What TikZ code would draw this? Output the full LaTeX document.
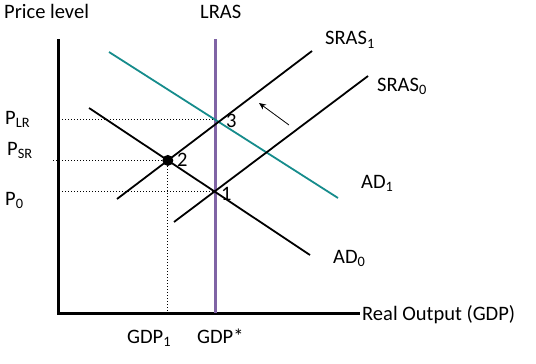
\documentclass[tikz,border=0pt]{standalone}
\usepackage{fontspec}
\setmainfont{Carlito}
\usetikzlibrary{intersections,arrows.meta}
\definecolor{lrascol}{RGB}{128,100,165}
\definecolor{adteal}{RGB}{22,140,140}
\tikzset{
  axis/.style={line width=3pt,black},
  curve/.style={line width=1.8pt,black},
  guide/.style={line width=1pt,dash pattern=on 1pt off 2pt},
  lbl/.style={anchor=base west,inner sep=0pt,font=\fontsize{20.5}{24}\selectfont},
  num/.style={anchor=base west,inner sep=0pt,font=\fontsize{20.5}{24}\selectfont},
}
\begin{document}
\begin{tikzpicture}[x=1pt,y=-1pt]
\useasboundingbox (0,0) rectangle (536,364);
% axes
\coordinate (yt) at (58,39);
\coordinate (o) at (58,313);
\coordinate (xe) at (360,313);
\draw[axis] (yt) -- (o) -- (xe);
% LRAS
\coordinate (lt) at (215,39);
\coordinate (lb) at (215,313);
\draw[line width=3pt,lrascol,name path=lras] (lt) -- (lb);
% curves
\coordinate (ad1a) at (109,52);
\coordinate (ad1b) at (338,198);
\draw[line width=1.8pt,adteal,name path=ad1] (ad1a) -- (ad1b);
\coordinate (ad0a) at (89,108);
\coordinate (ad0b) at (310,255);
\draw[curve,name path=ad0] (ad0a) -- (ad0b);
\coordinate (s1a) at (117,199);
\coordinate (s1b) at (312,51);
\draw[curve,name path=sras1] (s1a) -- (s1b);
\coordinate (s0a) at (174,222);
\coordinate (s0b) at (368,76);
\draw[curve,name path=sras0] (s0a) -- (s0b);
% intersections
\path[name intersections={of=ad0 and sras1,by=e2}];
\path[name intersections={of=ad0 and lras,by=e1}];
\path[name intersections={of=ad1 and lras,by=e3}];
\coordinate (plr) at (62,0 |- e3);
\coordinate (psr) at (53,0 |- e2);
\coordinate (p0) at (62,0 |- e1);
\coordinate (g1) at (e2 |- o);
\draw[guide] (plr) -- (e3);
\draw[guide] (psr) -- (e2);
\draw[guide] (p0) -- (e1);
\draw[guide] (e2) -- (g1);
\fill (e2) circle (5.5pt);
% arrow
\coordinate (at) at (259,103);
\coordinate (af) at (289,125);
\draw[line width=0.8pt,-{Stealth[length=7pt,width=6pt]}] (af) -- (at);
% labels
\node[lbl] (tpl) at (4,18) {Price level};
\node[lbl] (tlras) at (200,18) {LRAS};
\node[lbl] (ts1) at (325,45) {SRAS\textsubscript{1}};
\node[lbl] (ts0) at (377,91) {SRAS\textsubscript{0}};
\node[lbl] (tad1) at (361,188) {AD\textsubscript{1}};
\node[lbl] (tad0) at (333,263) {AD\textsubscript{0}};
\node[lbl] (txl) at (362,320) {Real Output (GDP)};
\node[lbl] (tg1) at (127,343) {GDP\textsubscript{1}};
\node[lbl] (tgs) at (197,343) {GDP*};
\node[lbl] (tplr) at (5,124) {P\textsubscript{LR}};
\node[lbl] (tpsr) at (7,155) {P\textsubscript{SR}};
\node[lbl] (tp0) at (5,205) {P\textsubscript{0}};
\node[num] (n3) at (226,127) {3};
\node[num] (n2) at (177,166) {2};
\node[num] (n1) at (221,200) {1};
\end{tikzpicture}
\end{document}
